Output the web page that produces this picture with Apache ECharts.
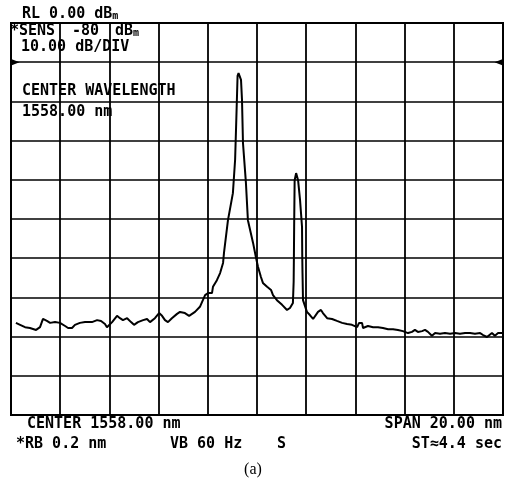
<!DOCTYPE html>
<html>
<head>
<meta charset="utf-8">
<script src="https://cdn.jsdelivr.net/npm/echarts@6/dist/echarts.min.js"></script>
<style>
html,body{margin:0;padding:0;background:#fff;}
#chart{width:507px;height:489px;}
</style>
</head>
<body>
<div id="chart"></div>
<script>
// Wavelength axis (nm): center 1558.00, span 20.00 nm
const xMin = 1548, xMax = 1568, xStep = 2;
// Power axis (dBm): RL 0.00 dBm, 10 dB/DIV
const yMin = -100, yMax = 0, yStep = 10;

// Trace
const wavelength = [
1548.20,1548.37,1548.57,1548.77,1549.02,1549.18,1549.30,1549.46,1549.59,1549.79,
1549.99,1550.20,1550.32,1550.48,1550.60,1550.80,1551.01,1551.09,1551.29,1551.50,
1551.66,1551.82,1551.90,1552.11,1552.31,1552.43,1552.55,1552.72,1552.88,1553.00,
1553.16,1553.37,1553.53,1553.65,1553.85,1554.02,1554.14,1554.26,1554.38,1554.54,
1554.75,1554.87,1555.07,1555.24,1555.48,1555.68,1555.80,1555.89,1556.01,1556.17,
1556.21,1556.37,1556.50,1556.62,1556.66,1556.82,1557.02,1557.11,1557.15,1557.19,
1557.21,1557.25,1557.31,1557.35,1557.39,1557.43,1557.55,1557.63,1557.84,1557.96,
1558.04,1558.16,1558.24,1558.41,1558.57,1558.65,1558.81,1559.02,1559.22,1559.34,
1559.46,1559.49,1559.50,1559.51,1559.53,1559.59,1559.63,1559.67,1559.75,1559.83,
1559.84,1559.85,1559.87,1560.03,1560.15,1560.28,1560.36,1560.48,1560.60,1560.68,
1560.85,1561.05,1561.25,1561.46,1561.66,1561.86,1562.07,1562.15,1562.27,1562.31,
1562.51,1562.72,1562.92,1563.12,1563.33,1563.53,1563.73,1563.93,1564.14,1564.30,
1564.42,1564.54,1564.71,1564.83,1564.95,1565.11,1565.24,1565.44,1565.64,1565.85,
1566.05,1566.25,1566.46,1566.66,1566.86,1567.07,1567.19,1567.35,1567.55,1567.67,
1567.80,1568.00
];
const power = [
-76.5,-77.0,-77.6,-77.8,-78.3,-77.6,-75.5,-76.0,-76.5,-76.3,
-76.5,-77.3,-77.8,-77.8,-77.0,-76.5,-76.3,-75.8,-76.3,-75.8,
-76.0,-76.8,-77.6,-76.3,-74.7,-75.3,-75.8,-75.3,-76.3,-77.0,
-76.3,-75.8,-75.5,-76.3,-75.3,-74.0,-74.7,-75.8,-76.3,-75.3,
-74.2,-73.7,-74.0,-74.7,-73.7,-72.4,-70.7,-69.4,-68.9,-68.9,
-67.3,-65.6,-63.8,-61.2,-58.5,-50.3,-43.4,-34.9,-26.5,-17.9,
-13.5,-12.8,-12.8,-14.5,-19.6,-30.6,-40.8,-50.3,-56.1,-59.9,
-62.2,-64.8,-66.3,-67.3,-68.1,-69.4,-70.7,-71.9,-73.2,-72.7,
-71.4,-66.0,-59.7,-52.0,-40.1,-38.3,-38.0,-40.1,-45.2,-52.0,
-59.7,-63.8,-70.7,-73.7,-74.5,-75.5,-75.0,-73.7,-73.2,-74.0,
-75.3,-75.5,-76.0,-76.5,-76.8,-77.0,-77.6,-76.5,-76.5,-77.8,
-77.3,-77.6,-77.6,-77.8,-78.1,-78.1,-78.3,-78.6,-79.1,-78.8,
-78.3,-78.8,-78.6,-78.3,-78.8,-79.8,-79.1,-79.3,-79.1,-79.3,
-79.1,-79.3,-79.1,-79.1,-79.3,-79.1,-79.6,-80.1,-79.1,-79.8,
-79.1,-79.1
];
// Reference marker level (arrows at edges)
const markerLevel = -10;

const topTexts = {
  rl: 'RL 0.00 dB',
  sens: '*SENS',
  sensVal: '-80',
  unit: 'dB',
  div: '10.00 dB/DIV',
  cw: 'CENTER WAVELENGTH',
  cwVal: '1558.00 nm'
};
const bottomTexts = {
  center: 'CENTER 1558.00 nm',
  span: 'SPAN 20.00 nm',
  rb: '*RB 0.2 nm',
  vb: 'VB 60 Hz',
  s: 'S',
  st: 'ST≈4.4 sec',
  caption: '(a)'
};

const mono = 'DejaVu Sans Mono';
const fs = 15;
function txt(x, y, text, align) {
  return {
    type: 'text', x: x, y: y, z: 10,
    style: { text: text, font: 'bold ' + fs + 'px "' + mono + '"', fill: '#000',
             textAlign: align || 'left', textVerticalAlign: 'middle' }
  };
}
function withM(x, y, text) {
  return {
    type: 'text', x: x, y: y, z: 10,
    style: {
      text: '{a|' + text + '}{m|m}',
      rich: {
        a: { fontFamily: mono, fontWeight: 'bold', fontSize: fs, fill: '#000' },
        m: { fontFamily: mono, fontWeight: 'bold', fontSize: 10, fill: '#000', verticalAlign: 'bottom', padding: [4,0,0,0] }
      },
      textVerticalAlign: 'middle'
    }
  };
}

const chart = echarts.init(document.getElementById('chart'), null, {renderer: 'canvas'});
chart.setOption({
  animation: false,
  backgroundColor: '#fff',
  grid: { left: 11, right: 4, top: 23, bottom: 74, show: true, borderColor: '#000', borderWidth: 2, backgroundColor: 'transparent' },
  xAxis: {
    type: 'value', min: xMin, max: xMax, interval: xStep,
    axisLine: { show: false }, axisTick: { show: false }, axisLabel: { show: false },
    splitLine: { show: true, lineStyle: { color: '#000', width: 1.8 } }
  },
  yAxis: {
    type: 'value', min: yMin, max: yMax, interval: yStep,
    axisLine: { show: false }, axisTick: { show: false }, axisLabel: { show: false },
    splitLine: { show: true, lineStyle: { color: '#000', width: 1.6 } }
  },
  series: [{
    type: 'line',
    data: wavelength.map((w, i) => [w, power[i]]),
    showSymbol: false,
    lineStyle: { color: '#000', width: 2 },
    z: 5,
    markPoint: {
      silent: true,
      label: { show: false },
      itemStyle: { color: '#000' },
      data: [
        { coord: [xMin, markerLevel], symbol: 'triangle', symbolRotate: -90, symbolSize: [7, 9], symbolOffset: [4, 0] },
        { coord: [xMax, markerLevel], symbol: 'triangle', symbolRotate: 90, symbolSize: [7, 9], symbolOffset: [-4, 0] }
      ]
    }
  }],
  graphic: [
    withM(22, 14, topTexts.rl),
    txt(10, 31, topTexts.sens),
    txt(72, 31, topTexts.sensVal),
    withM(115, 31, topTexts.unit),
    txt(21, 47, topTexts.div),
    txt(22, 91, topTexts.cw),
    txt(22, 112, topTexts.cwVal),
    txt(27, 424, bottomTexts.center),
    txt(502, 424, bottomTexts.span, 'right'),
    txt(16, 444, bottomTexts.rb),
    txt(170, 444, bottomTexts.vb),
    txt(277, 444, bottomTexts.s),
    txt(502, 444, bottomTexts.st, 'right'),
    { type: 'text', x: 253, y: 470, z: 10,
      style: { text: bottomTexts.caption, font: '16px "Liberation Serif"', fill: '#000', textAlign: 'center', textVerticalAlign: 'middle' } }
  ]
});
</script>
</body>
</html>
